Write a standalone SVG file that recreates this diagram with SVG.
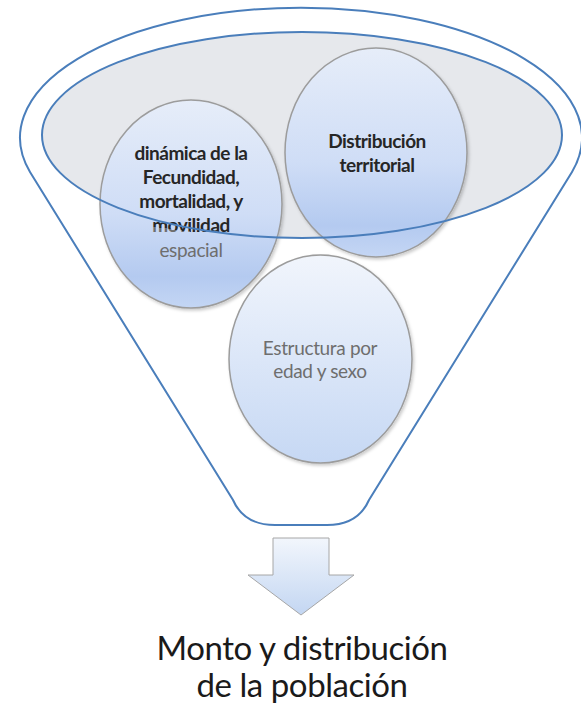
<svg xmlns="http://www.w3.org/2000/svg" width="581" height="710" viewBox="0 0 581 710">
<defs>
  <linearGradient id="gCircle" x1="0" y1="0" x2="0" y2="1">
    <stop offset="0" stop-color="#e6edf9"/>
    <stop offset="0.55" stop-color="#cfddf6"/>
    <stop offset="0.85" stop-color="#b4caf0"/>
    <stop offset="1" stop-color="#c4d6f4"/>
  </linearGradient>
  <linearGradient id="gCircleLight" x1="0" y1="0" x2="0" y2="1">
    <stop offset="0" stop-color="#f1f5fc"/>
    <stop offset="1" stop-color="#c6d8f4"/>
  </linearGradient>
  <linearGradient id="gArrow" x1="0" y1="0" x2="0" y2="1">
    <stop offset="0" stop-color="#f2f6fc"/>
    <stop offset="1" stop-color="#c3d6f2"/>
  </linearGradient>
  <linearGradient id="gMov" gradientUnits="userSpaceOnUse" x1="190.65" y1="226.5" x2="189.35" y2="236.5">
    <stop offset="0.5" stop-color="#262626"/>
    <stop offset="0.5" stop-color="#6e6e6e"/>
  </linearGradient>
  <filter id="shadow" x="-10%" y="-10%" width="130%" height="130%">
    <feDropShadow dx="1.5" dy="2" stdDeviation="1.5" flood-color="#000" flood-opacity="0.2"/>
  </filter>
</defs>
<style>
  .fun{fill:none;stroke:#4a7ebb;stroke-width:2}
  .c{stroke:#9c9c9c;stroke-width:1.5;filter:url(#shadow)}
  .tb{font-family:Lato,"Liberation Sans",sans-serif;font-weight:700;font-size:19px;letter-spacing:-0.5px;text-anchor:middle;fill:#262626}
  .tg{font-family:Lato,"Liberation Sans",sans-serif;font-weight:400;font-size:19px;letter-spacing:-0.35px;text-anchor:middle;fill:#6e6e6e}
  .big{font-family:Lato,"Liberation Sans",sans-serif;font-weight:400;font-size:33px;letter-spacing:-0.45px;text-anchor:middle;fill:#1a1a1a}
</style>
<rect width="581" height="710" fill="#ffffff"/>

<g id="funnel">
  <path class="fun" d="M 30,172 A 281,130 0 1 1 572,172 L 369,500 Q 358,525 327,525 L 275,525 Q 244,525 233,500 Z"/>
</g>

<g id="top-ellipse-fill">
  <ellipse cx="302" cy="135" rx="260" ry="103" fill="#e6e8ec"/>
</g>

<g id="node-estructura">
  <ellipse class="c" cx="320.5" cy="359" rx="91.5" ry="104" fill="url(#gCircleLight)"/>
  <text class="tg" x="320" y="355">Estructura por</text>
  <text class="tg" x="320" y="378">edad y sexo</text>
</g>

<g id="node-dinamica">
  <ellipse class="c" cx="191" cy="204" rx="91" ry="104" fill="url(#gCircle)"/>
  <text class="tb" x="191" y="160">dinámica de la</text>
  <text class="tb" x="191" y="184">Fecundidad,</text>
  <text class="tb" x="191" y="208">mortalidad, y</text>
  <text class="tb" x="191" y="232" style="fill:url(#gMov)">movilidad</text>
  <text class="tg" x="191" y="257">espacial</text>
</g>

<g id="node-distribucion">
  <ellipse class="c" cx="376" cy="152.5" rx="91" ry="104.5" fill="url(#gCircle)"/>
  <text class="tb" x="377" y="148">Distribución</text>
  <text class="tb" x="377" y="172">territorial</text>
</g>

<g id="top-ellipse">
  <ellipse class="fun" cx="302" cy="135" rx="260" ry="103"/>
</g>

<g id="connectors">
  <path d="M 273,538 L 329,538 L 329,575 L 354,575 L 301,615 L 248,575 L 273,575 Z" fill="url(#gArrow)" stroke="#a6a6a6" stroke-width="1"/>
</g>

<g id="result">
  <text class="big" x="302" y="660">Monto y distribución</text>
  <text class="big" x="302" y="697">de la población</text>
</g>
</svg>
